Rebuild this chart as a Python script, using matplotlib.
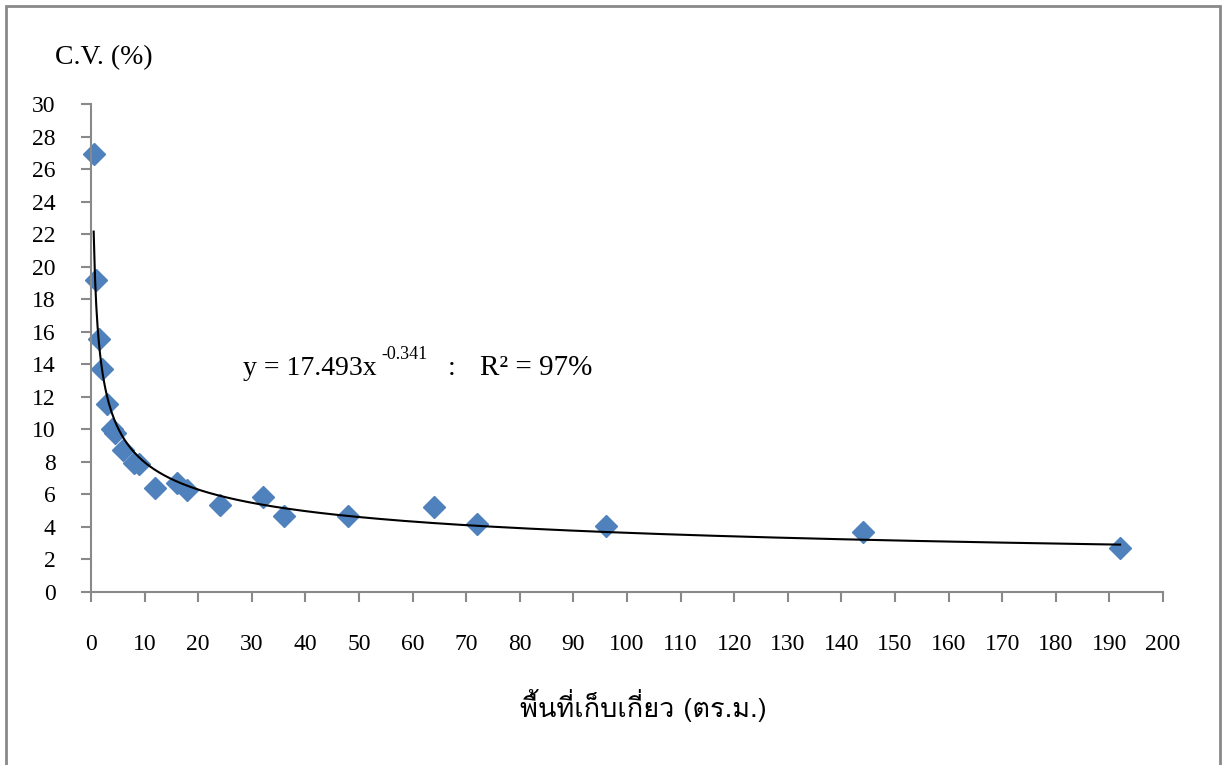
import matplotlib
matplotlib.use("Agg")
import numpy as np
import matplotlib.pyplot as plt
from matplotlib.patches import Rectangle

# Plot size (m^2) and coefficient of variation (%)
plot_area = [0.5, 1, 1.5, 2, 3, 4, 4.5, 6, 8, 9, 12, 16, 18, 24, 32, 36, 48, 64, 72, 96, 144, 192]
cv_percent = [26.9, 19.2, 15.55, 13.7, 11.55, 10.05, 9.8, 8.75, 7.9, 7.85, 6.4, 6.7, 6.3,
              5.35, 5.85, 4.65, 4.65, 5.2, 4.15, 4.05, 3.7, 2.7]

# Power-law fit y = a * x^b
fit_a = 17.493
fit_b = -0.341
fit_r2 = 97

x_ticks = list(range(0, 201, 10))
y_ticks = list(range(0, 31, 2))

plt.rcParams["font.family"] = ["Liberation Serif", "DejaVu Serif"]

W, H = 1230, 765
fig = plt.figure(figsize=(W / 100, H / 100), dpi=100)
ax = fig.add_axes([91 / W, 1 - 592 / H, (1163 - 91) / W, (592 - 104) / H])

axis_grey = "#898989"
marker_blue = "#4F81BD"

xs = np.linspace(min(plot_area), max(plot_area), 800)
ax.plot(xs, fit_a * xs ** fit_b, color="black", lw=1.5, zorder=3)
ax.plot(plot_area, cv_percent, linestyle="none", marker="D", ms=11,
        color=marker_blue, mec=marker_blue, zorder=2, clip_on=False)

ax.set_xlim(0, 200)
ax.set_ylim(0, 30)
ax.set_xticks(x_ticks)
ax.set_yticks(y_ticks)
for side in ("top", "right"):
    ax.spines[side].set_visible(False)
for side in ("left", "bottom"):
    ax.spines[side].set_color(axis_grey)
    ax.spines[side].set_linewidth(1.5)
ax.tick_params(axis="both", direction="out", length=7.5, width=1.5,
               color=axis_grey, labelsize=17, labelcolor="black")
ax.tick_params(axis="y", pad=18)
ax.tick_params(axis="x", pad=23)

# Fitted equation, written as pieces so the exponent sits as a superscript
def px(x, y):
    return x / W, 1 - y / H

fig.text(*px(243, 375), f"y = {fit_a:.3f}x", fontsize=20, ha="left", va="baseline")
fig.text(*px(381, 359), f"{fit_b:.3f}", fontsize=13, ha="left", va="baseline")
fig.text(*px(448, 375), ":", fontsize=20, ha="left", va="baseline")
fig.text(*px(480, 375), f"R² = {fit_r2}%", fontsize=21, ha="left", va="baseline")

fig.text(*px(55, 58), "C.V. (%)", fontsize=20, ha="left", va="center")
fig.text(*px(643.5, 706), "พื้นที่เก็บเกี่ยว (ตร.ม.)", fontsize=19.5,
         ha="center", va="center", family=["Loma", "Liberation Serif"])

# Outer chart border
fig.patches.append(Rectangle((6 / W, -0.02), (1220 - 6) / W, 1 - 6 / H + 0.02,
                             transform=fig.transFigure, fill=False,
                             edgecolor=axis_grey, lw=2, zorder=0))

fig.savefig("out.png", dpi=100)
